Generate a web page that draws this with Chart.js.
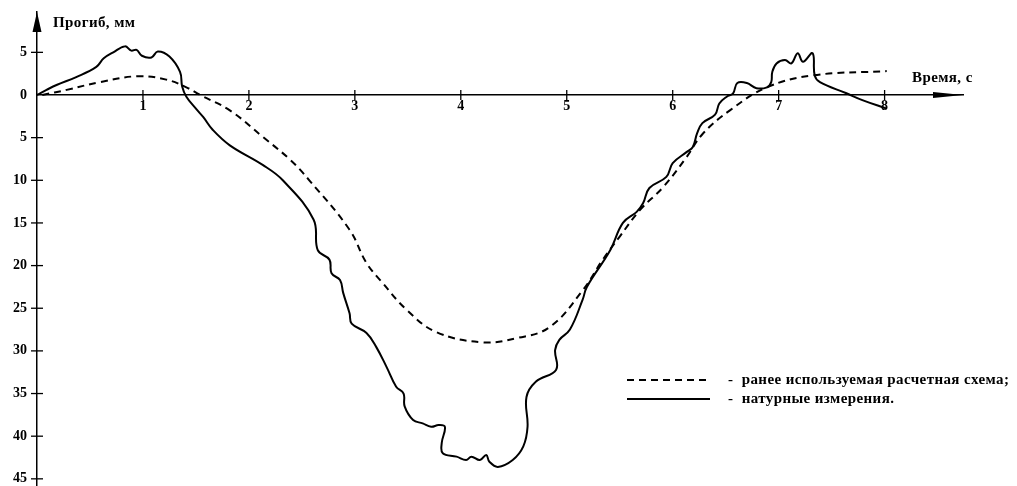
<!DOCTYPE html>
<html>
<head>
<meta charset="utf-8">
<script src="https://cdn.jsdelivr.net/npm/chart.js@4/dist/chart.umd.min.js"></script>
<style>
    html, body { margin: 0; padding: 0; background: #fff; }
    canvas { display: block; }
</style>
</head>
<body>
<canvas id="deflChart" width="1017" height="486"></canvas>
<script>
// deflection is positive downward (axis reversed), labels show absolute value
const xTicks = [1, 2, 3, 4, 5, 6, 7, 8];
const yTicks = [-5, 0, 5, 10, 15, 20, 25, 30, 35, 40, 45];

const measTime = [0, 0.09, 0.19, 0.37, 0.56, 0.63, 0.72, 0.83, 0.89, 0.94, 0.99, 1.08, 1.14, 1.25, 1.35, 1.37, 1.41, 1.50,
    1.57, 1.66, 1.82, 2.13, 2.32, 2.61, 2.65, 2.76, 2.78, 2.86, 2.89, 2.95, 2.97, 3.11, 3.20, 3.30, 3.39, 3.46, 3.47, 3.55,
    3.64, 3.72, 3.79, 3.85, 3.82, 3.83, 3.96, 4.05, 4.10, 4.18, 4.24, 4.27, 4.35, 4.49, 4.59, 4.63, 4.62, 4.71, 4.90, 4.89,
    4.93, 5.03, 5.15, 5.19, 5.41, 5.53, 5.66, 5.72, 5.78, 5.94, 6.00, 6.13, 6.19, 6.23, 6.28, 6.40, 6.44, 6.51, 6.57, 6.61,
    6.70, 6.79, 6.89, 6.93, 6.94, 6.98, 7.06, 7.12, 7.18, 7.23, 7.32, 7.34, 7.39, 7.64, 7.79, 8.02];
const measDefl = [0, -0.6, -1.2, -2.1, -3.3, -4.3, -5.0, -5.7, -5.2, -5.3, -4.6, -4.4, -5.1, -4.5, -2.7, -1.0, 0.2, 1.6,
    2.6, 4.1, 5.9, 8.2, 10.0, 14.6, 18.2, 19.3, 20.9, 21.7, 23.2, 25.6, 26.8, 27.9, 29.5, 31.9, 34.2, 35.0, 36.5, 38.1,
    38.5, 38.9, 38.7, 38.9, 40.8, 42.0, 42.4, 42.8, 42.4, 42.8, 42.2, 43.0, 43.6, 42.8, 41.2, 38.9, 35.4, 33.6, 32.2, 29.9,
    28.7, 27.5, 24.0, 22.5, 18.2, 15.0, 13.7, 12.7, 10.9, 9.6, 8.0, 6.7, 6.1, 4.5, 3.3, 2.3, 1.0, 0.2, -0.2, -1.4,
    -1.4, -0.8, -0.9, -1.5, -2.7, -3.7, -4.1, -3.7, -4.9, -3.9, -4.9, -2.3, -1.5, -0.2, 0.6, 1.6];

const calcTime = [0.05, 0.28, 0.59, 0.95, 1.22, 1.41, 1.54, 1.82, 2.13, 2.39, 2.57, 2.95, 3.11, 3.26, 3.49, 3.77, 4.21,
    4.53, 4.84, 5.15, 5.34, 5.50, 5.69, 5.91, 6.13, 6.28, 6.54, 6.89, 7.32, 8.02];
const calcDefl = [0, -0.6, -1.5, -2.2, -1.8, -0.9, 0, 1.8, 4.9, 7.6, 10.0, 15.8, 19.7, 22.0, 25.2, 27.8, 29.0,
    28.5, 27.2, 22.9, 19.3, 16.6, 13.5, 10.8, 7.3, 4.6, 1.8, -0.9, -2.3, -2.8];

const seriesNames = ["ранее используемая расчетная схема;", "натурные измерения."];
const axisTitles = ["Прогиб, мм", "Время, с"];

const SERIF = "'Liberation Serif', 'DejaVu Serif', serif";

function toPoints(xs, ys) {
    return xs.map((x, i) => ({ x: x, y: ys[i] }));
}

const decorPlugin = {
    id: 'decor',
    afterDraw(chart) {
        const ctx = chart.ctx;
        const xs = chart.scales.x, ys = chart.scales.y;
        const ox = xs.getPixelForValue(0);
        const oy = ys.getPixelForValue(0);
        const area = chart.chartArea;
        ctx.save();
        ctx.strokeStyle = '#000';
        ctx.fillStyle = '#000';
        ctx.lineWidth = 1.3;

        // crossing tick marks
        xTicks.forEach(v => {
            const p = xs.getPixelForValue(v);
            ctx.beginPath(); ctx.moveTo(p, oy - 5); ctx.lineTo(p, oy + 5); ctx.stroke();
        });
        yTicks.forEach(v => {
            if (v === 0) return;
            const p = ys.getPixelForValue(v);
            ctx.beginPath(); ctx.moveTo(ox - 6, p); ctx.lineTo(ox + 6, p); ctx.stroke();
        });

        // arrows
        ctx.beginPath();
        ctx.moveTo(ox, area.top);
        ctx.lineTo(ox - 4.5, area.top + 20);
        ctx.lineTo(ox + 4.5, area.top + 20);
        ctx.closePath(); ctx.fill();
        ctx.beginPath();
        ctx.moveTo(area.right, oy);
        ctx.lineTo(area.right - 30, oy - 3);
        ctx.lineTo(area.right - 30, oy + 3);
        ctx.closePath(); ctx.fill();

        // axis titles
        ctx.font = "bold 15px " + SERIF;
        ctx.letterSpacing = '0.4px';
        ctx.textBaseline = 'middle';
        ctx.textAlign = 'left';
        ctx.fillText(axisTitles[0], ox + 16, 23);
        ctx.fillText(axisTitles[1], 912, 78);

        // legend
        ctx.lineWidth = 2;
        ctx.setLineDash([7, 5]);
        ctx.beginPath(); ctx.moveTo(627, 380); ctx.lineTo(710, 380); ctx.stroke();
        ctx.setLineDash([]);
        ctx.beginPath(); ctx.moveTo(627, 399); ctx.lineTo(710, 399); ctx.stroke();
        ctx.fillText("-  " + seriesNames[0], 728, 380);
        ctx.fillText("-  " + seriesNames[1], 728, 399);
        ctx.restore();
    }
};

new Chart(document.getElementById('deflChart').getContext('2d'), {
    type: 'scatter',
    data: {
        datasets: [
            {
                label: seriesNames[1],
                data: toPoints(measTime, measDefl),
                showLine: true,
                borderColor: '#000',
                borderWidth: 2,
                pointRadius: 0,
                tension: 0.4,
                fill: false
            },
            {
                label: seriesNames[0],
                data: toPoints(calcTime, calcDefl),
                showLine: true,
                borderColor: '#000',
                borderWidth: 2,
                borderDash: [7, 5],
                pointRadius: 0,
                tension: 0.4,
                fill: false
            }
        ]
    },
    options: {
        responsive: false,
        animation: false,
        layout: { padding: { left: 0, right: 54, top: 12, bottom: 0 } },
        plugins: {
            legend: { display: false },
            tooltip: { enabled: false }
        },
        scales: {
            x: {
                type: 'linear',
                min: 0,
                max: 8.74,
                position: { y: 0 },
                grid: { display: false, drawTicks: false },
                border: { display: true, color: '#000', width: 1.5 },
                afterBuildTicks: s => { s.ticks = xTicks.map(v => ({ value: v })); },
                afterFit: s => { s.height = 0; s.paddingLeft = 0; s.paddingRight = 0; },
                ticks: {
                    color: '#000',
                    padding: 3,
                    maxRotation: 0,
                    font: { family: SERIF, size: 14, weight: 'bold' }
                }
            },
            y: {
                type: 'linear',
                reverse: true,
                min: -9.73,
                max: 45.84,
                position: 'left',
                grid: { display: false, drawTicks: false },
                border: { display: true, color: '#000', width: 1.5 },
                afterBuildTicks: s => { s.ticks = yTicks.map(v => ({ value: v })); },
                afterFit: s => { s.width = 37; s.paddingTop = 0; s.paddingBottom = 0; },
                ticks: {
                    color: '#000',
                    padding: 10,
                    callback: v => Math.abs(v),
                    font: { family: SERIF, size: 14, weight: 'bold' }
                }
            }
        }
    },
    plugins: [decorPlugin]
});
</script>
</body>
</html>
